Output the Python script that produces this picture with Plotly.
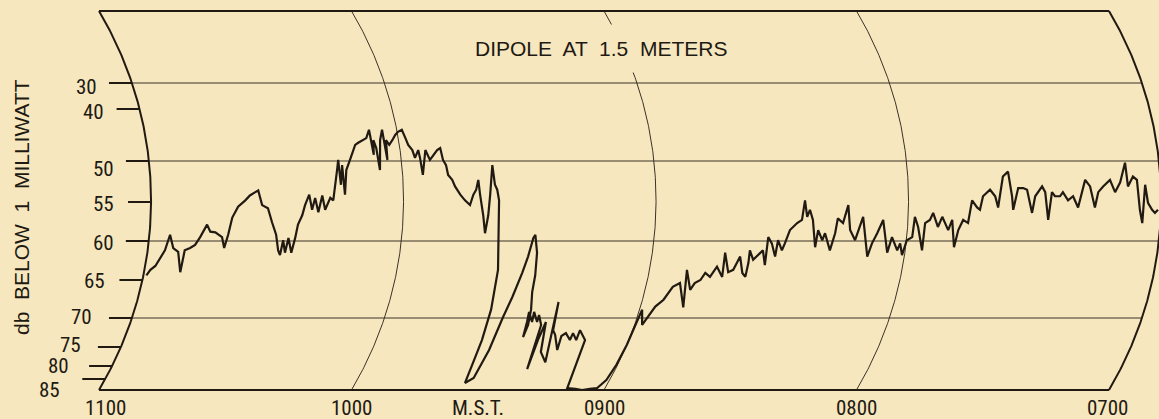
import numpy as np
import plotly.graph_objects as go

# ---------------- data (read from the recording) ----------------
# time in minutes after 0700 M.S.T., received level in db below 1 milliwatt
minutes_after_0700 = [
    239.3, 238.6, 237.6, 236.8, 235.9, 235.1, 234.0, 232.7, 231.4, 231.2, 230.0, 228.9, 227.9, 226.5,
    225.6, 224.4, 222.7, 221.9, 221.3, 220.6, 219.3, 217.6, 216.5, 215.2, 214.5, 213.6, 212.2, 211.1,
    209.9, 209.0, 208.4, 208.1, 207.3, 206.9, 205.8, 205.3, 204.9, 204.0, 203.4, 202.4, 201.7, 201.0,
    200.2, 199.3, 198.6, 197.4, 196.7,
    195.5, 195.0, 194.8, 194.2, 193.9, 193.3, 192.2, 190.5, 189.7, 188.7, 187.6, 186.6, 186.4, 186.0,
    185.6, 185.3, 184.4, 183.5, 183.3, 183.0, 182.4, 181.5, 180.6, 179.8, 178.8, 178.3, 177.9, 177.1,
    176.7, 175.7, 175.5, 175.2, 174.0, 173.2, 172.1, 171.2, 170.4, 170.1, 169.5, 169.2, 168.3, 167.7,
    166.5, 165.4, 164.2, 163.4, 162.7, 162.1, 161.8, 161.0, 160.3, 159.8, 159.4, 158.5, 158.2, 157.7,
    157.3,
    156.0, 155.3, 154.9, 154.6, 154.3, 154.0, 152.6, 152.2, 151.9, 151.1, 150.1, 149.4, 148.7,
    148.3, 147.4, 146.9, 146.7, 145.8, 145.3, 145.4, 145.8, 146.1, 144.6, 144.9, 143.4, 143.5, 142.2,
    141.0, 141.6, 141.3, 139.7, 137.5, 139.8, 138.9, 138.0, 136.0, 136.4, 135.6, 134.0, 133.9, 132.5,
    132.5, 130.4, 129.0, 127.0, 125.2, 123.5, 121.9,
    120.8, 120.3, 120.0, 119.7, 119.4, 118.2,
    117.6, 117.2, 116.5, 115.0, 113.6, 112.1, 109.8, 111.1, 109.3, 108.6, 107.4, 106.6, 105.3, 104.1,
    102.4, 102.7, 101.2, 100.1, 99.0, 97.8, 96.9, 96.8, 96.9, 95.8, 94.8, 93.8, 92.8, 92.9, 91.9, 90.7,
    90.5, 89.3, 88.8, 87.9, 86.3, 85.2, 84.6, 84.0, 83.4, 82.6, 81.5, 81.2, 80.0, 79.5, 77.9, 77.1,
    76.7, 75.4, 74.3, 73.6, 72.2, 71.3, 70.7, 68.8, 68.1, 67.1, 65.9, 64.2, 63.5, 61.9, 61.4,
    60.6, 59.9, 58.7, 58.4, 57.5, 56.0, 55.9, 54.8, 54.1, 52.8, 51.9, 51.2, 50.3, 49.5, 48.5, 47.9,
    46.9, 45.7, 44.9, 43.7, 43.0, 42.3, 40.6, 39.4, 38.7, 37.4, 36.1, 35.4, 35.1, 33.9, 32.7, 31.8,
    30.6, 29.9, 28.2, 27.5, 26.7, 25.9, 25.2, 24.0, 23.3, 22.1, 20.9, 19.7, 18.7, 17.9, 16.8, 15.7,
    14.9, 13.7, 12.0, 10.9, 9.6, 8.1, 7.8, 6.5, 5.6, 5.0, 4.3, 3.7, 3.1, 2.1, 1.4, 0.7,
]
signal_db = [
    64.4, 63.7, 63.2, 62.2, 61.2, 59.2, 60.9, 61.4, 64.0, 61.2, 60.9, 60.5, 59.5, 57.9,
    58.8, 58.9, 59.5, 60.9, 59.2, 57.0, 55.6, 54.8, 54.2, 53.8, 53.6, 55.4, 55.8, 57.6,
    59.2, 61.2, 61.8, 59.9, 61.5, 59.6, 61.5, 59.6, 57.9, 56.7, 55.4, 54.1, 56.0, 54.5,
    56.3, 54.2, 56.0, 54.5, 54.8,
    51.1, 49.8, 52.9, 50.5, 54.1, 51.1, 49.8, 46.9, 46.5, 46.0, 45.6, 44.0, 48.8, 46.0,
    47.5, 51.1, 46.0, 44.0, 49.8, 46.0, 46.9, 46.0, 45.0, 44.4, 44.0, 45.6, 46.9, 47.9,
    49.4, 47.9, 49.4, 51.7, 47.9, 49.8, 48.8, 47.9, 47.5, 49.8, 50.5, 51.7, 52.3, 53.1,
    54.1, 54.8, 55.4, 54.1, 53.5, 52.3, 54.1, 56.7, 59.0, 56.7, 54.1, 50.5, 52.9, 53.5,
    54.8,
    63.7, 68.9, 73.8, 79.2, 84.0, 86.8, 84.6, 75.8, 69.9, 67.2, 64.1, 62.0, 59.6,
    59.2, 61.5, 64.4, 66.6, 68.9, 71.2, 73.3, 70.7, 69.2, 70.7, 69.2, 70.7, 69.6, 71.2,
    81.2, 73.8, 70.7, 76.3, 79.0, 67.9, 72.1, 72.9, 75.8, 73.1, 72.6, 73.8, 72.6, 73.8,
    72.1, 73.8, 89.1, 89.5, 90.0, 89.5, 89.1,
    85.5, 79.7, 74.6, 71.2, 68.9, 71.2,
    69.9, 69.3, 68.5, 67.6, 65.9, 65.4, 68.6, 63.7, 66.3, 65.4, 65.0, 64.1, 64.6, 63.3,
    64.6, 61.5, 64.0, 63.7, 62.0, 64.1, 64.6, 62.8, 61.2, 62.4, 61.8, 61.2, 63.1, 59.5, 60.3, 62.0,
    59.9, 61.2, 60.3, 58.6, 57.7, 57.3, 54.8, 56.9, 56.0, 57.3, 60.8, 58.6, 59.9, 59.0, 61.2, 59.0,
    57.1, 57.7, 55.4, 58.6, 59.9, 58.2, 56.9, 62.0, 60.3, 59.0, 57.3, 61.5, 59.5, 61.2, 60.3,
    61.8, 59.9, 59.5, 56.9, 58.2, 61.2, 57.7, 57.3, 56.4, 58.2, 56.9, 57.7, 58.6, 57.3, 60.8, 58.6,
    57.3, 57.7, 54.8, 55.7, 56.0, 54.3, 53.5, 54.3, 55.7, 51.9, 51.3, 54.3, 56.0, 53.3, 53.3, 53.5,
    56.4, 54.3, 53.1, 53.8, 57.3, 53.8, 54.3, 54.3, 53.8, 54.8, 54.3, 55.7, 53.8, 52.3, 53.1, 55.7,
    53.8, 53.1, 52.3, 53.8, 52.6, 50.2, 53.1, 51.9, 52.3, 56.0, 57.7, 52.9, 55.1, 56.0, 56.4, 56.0,
]

# recorder calibration: db below 1 mw -> pen deflection (chart units above the bottom edge)
cal_db = [30, 40, 50, 55, 60, 65, 70, 75, 80, 85, 90]
cal_deflection = [307, 281, 229, 188, 149, 110, 72, 43, 24, 11, 0]

db_tick_values = [30, 40, 50, 55, 60, 65, 70, 75, 80, 85]
db_tick_labels = ["30", "40", "50", "55", "60", "65", "70", "75", "80", "85"]
grid_db = [30, 50, 60, 70]

hour_minutes = [240, 180, 120, 60, 0]
hour_labels = ["1100", "1000", "0900", "0800", "0700"]

# ---------------- chart geometry ----------------
W, H = 1159, 419
PX_PER_MIN = 252.5 / 60.0          # paper speed
RIGHT_EDGE_PX = 1109               # 0700 line on the chart chord
T_LEFT = RIGHT_EDGE_PX / PX_PER_MIN
T_RIGHT = (RIGHT_EDGE_PX - W) / PX_PER_MIN
DEF_TOP = 379.0                    # full-scale deflection
DEF_MIN, DEF_MAX = -29.0, 390.0
R_PEN = 371.0                      # pen arm radius (chart units)
HALF = DEF_TOP / 2.0

BG = "#F7E7BF"
INK = "#211a12"
GRID = "#3a3226"
NUM_FONT = "Roboto Condensed, DejaVu Sans Condensed, sans-serif"
TXT_FONT = "Liberation Sans, Arial, sans-serif"


def arc_offset(d):
    d = np.asarray(d, dtype=float)
    return np.sqrt(R_PEN ** 2 - (d - HALF) ** 2) - np.sqrt(R_PEN ** 2 - HALF ** 2)


def chart_x(t, d):
    """curvilinear chart: pen swings on an arc, so x shifts with deflection"""
    return np.asarray(t, dtype=float) - arc_offset(d) / PX_PER_MIN


def to_def(db):
    return np.interp(db, cal_db, cal_deflection)


fig = go.Figure()


def add_lines(segments, width, color):
    xs, ys = [], []
    for sx, sy in segments:
        xs += list(sx) + [None]
        ys += list(sy) + [None]
    fig.add_trace(go.Scatter(x=xs, y=ys, mode="lines", line=dict(color=color, width=width),
                             hoverinfo="skip", showlegend=False))


# time arcs
d_arc = np.linspace(0, DEF_TOP, 240)
thin_arcs, thick_arcs = [], []
for m in hour_minutes:
    seg = (chart_x(m, d_arc), d_arc)
    (thick_arcs if m in (0, 240) else thin_arcs).append(seg)

# horizontal chart lines
grid_segs = []
for g in grid_db:
    d = float(to_def(g))
    grid_segs.append(([chart_x(240, d), chart_x(0, d)], [d, d]))

# frame top & bottom
frame_segs = [([chart_x(240, DEF_TOP), chart_x(0, DEF_TOP)], [DEF_TOP, DEF_TOP]),
              ([chart_x(240, 0.0), chart_x(0, 0.0)], [0.0, 0.0])]

# db scale ticks along the left arc
TICK_LEN = 23 / PX_PER_MIN
tick_segs = []
for v in db_tick_values:
    d = float(to_def(v))
    xa = float(chart_x(240, d))
    tick_segs.append(([xa + TICK_LEN, xa], [d, d]))

add_lines(grid_segs, 1.1, GRID)
add_lines(thin_arcs, 1.0, GRID)
add_lines(thick_arcs + frame_segs + tick_segs, 2.0, INK)

# the recorded signal
sig_def = to_def(signal_db)
fig.add_trace(go.Scatter(x=chart_x(minutes_after_0700, sig_def), y=sig_def, mode="lines",
                         line=dict(color=INK, width=2.2), hoverinfo="skip", showlegend=False))

annotations = []
# db labels
label_gap = [10, 11, 10, 12, 10, 12, 15, 15, 18, 20]
label_dy = [4, 3, 8, 2, 2, 1, -1, -2, 0, 11]
for v, lab, gap, dy in zip(db_tick_values, db_tick_labels, label_gap, label_dy):
    d = float(to_def(v))
    xa = float(chart_x(240, d)) + TICK_LEN + gap / PX_PER_MIN
    annotations.append(dict(x=xa, y=d, xref="x", yref="y", text=lab, showarrow=False,
                            xanchor="right", yanchor="middle", yshift=-dy,
                            font=dict(family=NUM_FONT, size=21, color=INK)))

# hour labels
hour_shift = [6, 0, 0, 0, -2]
for m, lab, sh in zip(hour_minutes, hour_labels, hour_shift):
    annotations.append(dict(x=m, y=-18, xref="x", yref="y", text=lab, showarrow=False,
                            xanchor="center", yanchor="middle", xshift=sh,
                            font=dict(family=NUM_FONT, size=21, color=INK)))
annotations.append(dict(x=150, y=-18, xref="x", yref="y", text="M.S.T.", showarrow=False,
                        xanchor="center", yanchor="middle",
                        font=dict(family=NUM_FONT, size=21, color=INK)))

# title (its box hides the 0900 arc behind the lettering)
annotations.append(dict(x=600.5 / W, y=1 - 48.5 / H, xref="paper", yref="paper",
                        text="DIPOLE  AT  1.5  METERS", showarrow=False,
                        xanchor="center", yanchor="middle", bgcolor=BG, borderpad=12,
                        font=dict(family=TXT_FONT, size=21, color=INK)))

# axis title
annotations.append(dict(x=22 / W, y=1 - 207 / H, xref="paper", yref="paper",
                        text="db  BELOW  1  MILLIWATT", showarrow=False, textangle=-90,
                        xanchor="center", yanchor="middle",
                        font=dict(family=TXT_FONT, size=21, color=INK)))

fig.update_layout(
    width=W, height=H, autosize=False,
    margin=dict(l=0, r=0, t=0, b=0, pad=0),
    paper_bgcolor=BG, plot_bgcolor=BG,
    xaxis=dict(range=[T_LEFT, T_RIGHT], visible=False, fixedrange=True),
    yaxis=dict(range=[DEF_MIN, DEF_MAX], visible=False, fixedrange=True),
    annotations=annotations,
    showlegend=False,
)

fig.write_html("out.html", config={"displayModeBar": False})
